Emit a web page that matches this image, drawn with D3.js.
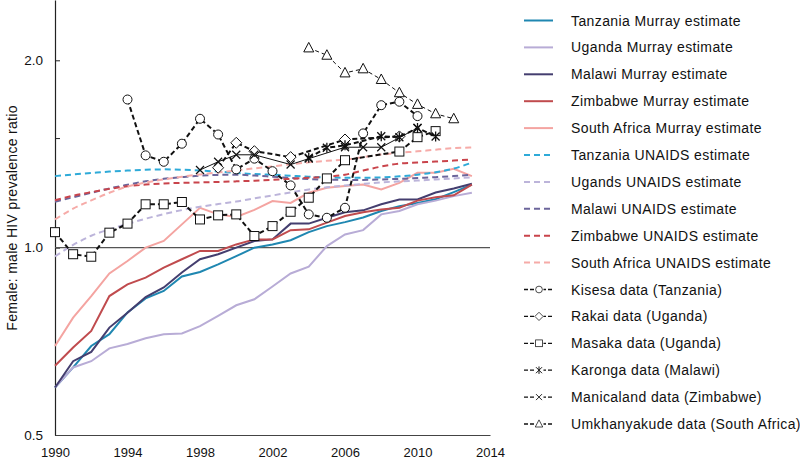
<!DOCTYPE html>
<html><head><meta charset="utf-8">
<script src="https://cdn.jsdelivr.net/npm/d3@7"></script>
<style>
body{margin:0;background:#fff;}
text{font-family:"Liberation Sans",Arial,sans-serif;fill:#111;}
</style></head>
<body><svg id="c" width="800" height="459"></svg>
<script>
const years = d3.range(1990, 2014);
const xTicks = [1990, 1994, 1998, 2002, 2006, 2010, 2014];
const yTicks = [0.5, 1.0, 1.5, 2.0];
const yTickLabels = ["0.5", "1.0", "", "2.0"];
const yLabel = "Female: male HIV prevalence ratio";

const tanzaniaMurray = [0.596,0.642,0.695,0.726,0.787,0.829,0.852,0.899,0.914,0.940,0.969,1.0,1.012,1.028,1.059,1.083,1.099,1.118,1.145,1.166,1.18,1.196,1.228,1.263];
const ugandaMurray = [0.596,0.642,0.657,0.689,0.70,0.715,0.726,0.728,0.748,0.777,0.808,0.826,0.866,0.909,0.932,1.006,1.05,1.067,1.131,1.145,1.174,1.19,1.21,1.225];
const malawiMurray = [0.596,0.657,0.68,0.744,0.786,0.833,0.863,0.912,0.958,0.976,1.0,1.025,1.031,1.093,1.093,1.117,1.14,1.148,1.174,1.195,1.195,1.226,1.245,1.267];
const zimbabweMurray = [0.646,0.691,0.735,0.836,0.873,0.895,0.929,0.958,0.988,0.988,1.012,1.031,1.031,1.067,1.07,1.097,1.124,1.14,1.152,1.159,1.19,1.205,1.214,1.263];
const southAfricaMurray = [0.695,0.772,0.836,0.909,0.952,1.0,1.025,1.09,1.159,1.131,1.12,1.15,1.188,1.18,1.225,1.248,1.256,1.263,1.24,1.271,1.319,1.319,1.339,1.303];

const tanzaniaUNAIDS = [1.303,1.311,1.318,1.325,1.33,1.334,1.336,1.334,1.33,1.325,1.318,1.313,1.31,1.305,1.30,1.297,1.295,1.295,1.297,1.302,1.31,1.322,1.34,1.37];
const ugandaUNAIDS = [0.968,1.01,1.045,1.07,1.092,1.113,1.132,1.149,1.163,1.175,1.186,1.2,1.213,1.227,1.24,1.25,1.259,1.266,1.273,1.278,1.282,1.287,1.292,1.297];
const malawiUNAIDS = [1.185,1.205,1.225,1.245,1.262,1.278,1.29,1.298,1.305,1.309,1.31,1.306,1.30,1.294,1.289,1.286,1.285,1.285,1.287,1.29,1.294,1.298,1.303,1.31];
const zimbabweUNAIDS = [1.192,1.212,1.228,1.243,1.255,1.263,1.268,1.271,1.273,1.275,1.278,1.281,1.285,1.29,1.295,1.30,1.31,1.33,1.35,1.365,1.37,1.375,1.38,1.386];
const southAfricaUNAIDS = [1.11,1.155,1.191,1.225,1.254,1.272,1.287,1.30,1.311,1.321,1.33,1.341,1.351,1.361,1.371,1.379,1.386,1.398,1.411,1.42,1.428,1.437,1.445,1.449];

const kisesaYears = [1994,1995,1996,1997,1998,1999,2000,2001,2002,2003,2004,2005,2006,2007,2008,2009,2010];
const kisesa = [1.73,1.407,1.374,1.469,1.611,1.52,1.336,1.39,1.327,1.259,1.131,1.117,1.159,1.526,1.694,1.716,1.627];
const rakaiYears = [1999,2000,2001,2003,2006,2009];
const rakai = [1.344,1.474,1.429,1.398,1.492,1.509];
const masakaYears = [1990,1991,1992,1993,1994,1995,1996,1997,1998,1999,2000,2001,2002,2003,2004,2005,2006,2009,2010,2011];
const masaka = [1.059,0.976,0.967,1.057,1.093,1.174,1.174,1.184,1.11,1.127,1.131,1.044,1.083,1.142,1.203,1.292,1.382,1.427,1.505,1.539];
const karongaYears = [2004,2005,2006,2008,2009,2010,2011];
const karonga = [1.395,1.447,1.46,1.51,1.505,1.557,1.509];
const manicalandYears = [1998,1999,2000,2001,2003,2004,2006,2007,2008,2010];
const manicaland = [1.333,1.374,1.41,1.41,1.36,1.39,1.45,1.45,1.45,1.557];
const umkhanyakudeYears = [2004,2005,2006,2007,2008,2009,2010,2011,2012];
const umkhanyakude = [2.094,2.038,1.909,1.938,1.863,1.774,1.699,1.641,1.611];

const murray = [
  {name:"Tanzania Murray estimate", v:tanzaniaMurray, c:"#1f87b1"},
  {name:"Uganda Murray estimate", v:ugandaMurray, c:"#b8acd6"},
  {name:"Malawi Murray estimate", v:malawiMurray, c:"#443e6f"},
  {name:"Zimbabwe Murray estimate", v:zimbabweMurray, c:"#c04b4e"},
  {name:"South Africa Murray estimate", v:southAfricaMurray, c:"#f4a4a1"}
];
const unaids = [
  {name:"Tanzania UNAIDS estimate", v:tanzaniaUNAIDS, c:"#2eaad8"},
  {name:"Ugands UNAIDS estimate", v:ugandaUNAIDS, c:"#bcb4da"},
  {name:"Malawi UNAIDS estimate", v:malawiUNAIDS, c:"#6c659b"},
  {name:"Zimbabwe UNAIDS estimate", v:zimbabweUNAIDS, c:"#c9444b"},
  {name:"South Africa UNAIDS estimate", v:southAfricaUNAIDS, c:"#f6aba8"}
];
const cohorts = [
  {name:"Kisesa data (Tanzania)", yrs:kisesaYears, v:kisesa, m:"circle", w:2, dash:"5,3"},
  {name:"Rakai data (Uganda)", yrs:rakaiYears, v:rakai, m:"diamond", w:2, dash:"5,3"},
  {name:"Masaka data (Uganda)", yrs:masakaYears, v:masaka, m:"square", w:2, dash:"5,3"},
  {name:"Karonga data (Malawi)", yrs:karongaYears, v:karonga, m:"asterisk", w:2, dash:"5,3"},
  {name:"Manicaland data (Zimbabwe)", yrs:manicalandYears, v:manicaland, m:"cross", w:1, dash:null},
  {name:"Umkhanyakude data (South Africa)", yrs:umkhanyakudeYears, v:umkhanyakude, m:"triangle", w:1, dash:"4,3"}
];

const svg = d3.select("#c");
const x = d3.scaleLinear().domain([1990, 2014]).range([55, 490]);
const y = d3.scaleLog().domain([0.5, 2.5]).range([435, 0]);

// axes
const yAxis = d3.axisLeft(y).tickValues(yTicks).tickFormat((d,i)=>yTickLabels[i]).tickSizeInner(-5).tickSizeOuter(0).tickPadding(12);
const gy = svg.append("g").attr("transform","translate(55,0)").call(yAxis);
gy.select(".domain").attr("stroke","#222").attr("stroke-width",1.2);
gy.selectAll(".tick line").attr("stroke","#222");
gy.selectAll(".tick text").style("font-size","13.5px").attr("fill","#111");

const xAxis = d3.axisBottom(x).tickValues(xTicks).tickFormat(d3.format("d")).tickSize(0).tickPadding(13);
const gx = svg.append("g").attr("transform","translate(0,435)").call(xAxis);
gx.select(".domain").attr("stroke","#444").attr("stroke-width",1.2);
gx.selectAll(".tick text").style("font-size","13px").attr("fill","#111");

// reference line at 1.0
svg.append("line").attr("x1",x(1990)).attr("x2",x(2014)).attr("y1",y(1)).attr("y2",y(1)).attr("stroke","#555").attr("stroke-width",1.2);

svg.append("text").attr("transform",`translate(17,${218}) rotate(-90)`).attr("text-anchor","middle").style("font-size","14px").style("letter-spacing","0.3px").text(yLabel);

const line = d3.line().x(d=>x(d[0])).y(d=>y(d[1]));

murray.forEach(s=>{
  svg.append("path").datum(years.map((yr,i)=>[yr,s.v[i]])).attr("d",line).attr("fill","none").attr("stroke",s.c).attr("stroke-width",2);
});
unaids.forEach(s=>{
  svg.append("path").datum(years.map((yr,i)=>[yr,s.v[i]])).attr("d",d3.line().curve(d3.curveMonotoneX).x(d=>x(d[0])).y(d=>y(d[1]))).attr("fill","none").attr("stroke",s.c).attr("stroke-width",2).attr("stroke-dasharray","6,4");
});

function marker(g, type, cx, cy){
  const st = {fill:"#fff", stroke:"#111", "stroke-width":1};
  let el;
  if(type==="circle") el = g.append("circle").attr("cx",cx).attr("cy",cy).attr("r",4.5);
  else if(type==="square") el = g.append("rect").attr("x",cx-4.5).attr("y",cy-4.5).attr("width",9).attr("height",9);
  else if(type==="diamond") el = g.append("path").attr("d",`M${cx},${cy-5.5}L${cx+5.5},${cy}L${cx},${cy+5.5}L${cx-5.5},${cy}Z`);
  else if(type==="triangle") el = g.append("path").attr("d",`M${cx},${cy-5.5}L${cx+5},${cy+4}L${cx-5},${cy+4}Z`);
  else if(type==="asterisk"){
    el = g.append("path").attr("d",`M${cx-4},${cy-4}L${cx+4},${cy+4}M${cx-4},${cy+4}L${cx+4},${cy-4}M${cx},${cy-5}L${cx},${cy+5}`).attr("stroke-width",1.3);
    el.attr("fill","none").attr("stroke","#111"); return;
  } else if(type==="cross"){
    el = g.append("path").attr("d",`M${cx-4},${cy-4}L${cx+4},${cy+4}M${cx-4},${cy+4}L${cx+4},${cy-4}`);
    el.attr("fill","none").attr("stroke","#111").attr("stroke-width",1.2); return;
  }
  for(const k in st) el.attr(k, st[k]);
}

cohorts.forEach(s=>{
  const pts = s.yrs.map((yr,i)=>[yr,s.v[i]]);
  const p = svg.append("path").datum(pts).attr("d",line).attr("fill","none").attr("stroke","#111").attr("stroke-width",s.w);
  if(s.dash) p.attr("stroke-dasharray",s.dash);
  const g = svg.append("g");
  pts.forEach(d=>marker(g, s.m, x(d[0]), y(d[1])));
});

// legend
const lg = svg.append("g");
const items = [...murray.map(s=>({t:"solid",s})), ...unaids.map(s=>({t:"dash",s})), ...cohorts.map(s=>({t:"cohort",s}))];
items.forEach((it,i)=>{
  const yy = 20.5 + i*26.9;
  if(it.t==="solid"){
    lg.append("line").attr("x1",524).attr("x2",553).attr("y1",yy).attr("y2",yy).attr("stroke",it.s.c).attr("stroke-width",2);
  } else if(it.t==="dash"){
    lg.append("line").attr("x1",524).attr("x2",553).attr("y1",yy).attr("y2",yy).attr("stroke",it.s.c).attr("stroke-width",2).attr("stroke-dasharray","6,4");
  } else {
    lg.append("line").attr("x1",524).attr("x2",554).attr("y1",yy).attr("y2",yy).attr("stroke","#111").attr("stroke-width",1.3).attr("stroke-dasharray","4,2");
    const g = lg.append("g");
    g.attr("transform",`translate(${539},${yy}) scale(0.75) translate(${-539},${-yy})`);
    g.append("rect").attr("x",533).attr("y",yy-5).attr("width",12).attr("height",10).attr("fill","#fff");
    marker(g, it.s.m, 539, yy);
  }
  lg.append("text").attr("x",571).attr("y",yy+5).style("font-size","14px").style("letter-spacing","0.4px").text(it.s.name);
});
</script></body></html>
